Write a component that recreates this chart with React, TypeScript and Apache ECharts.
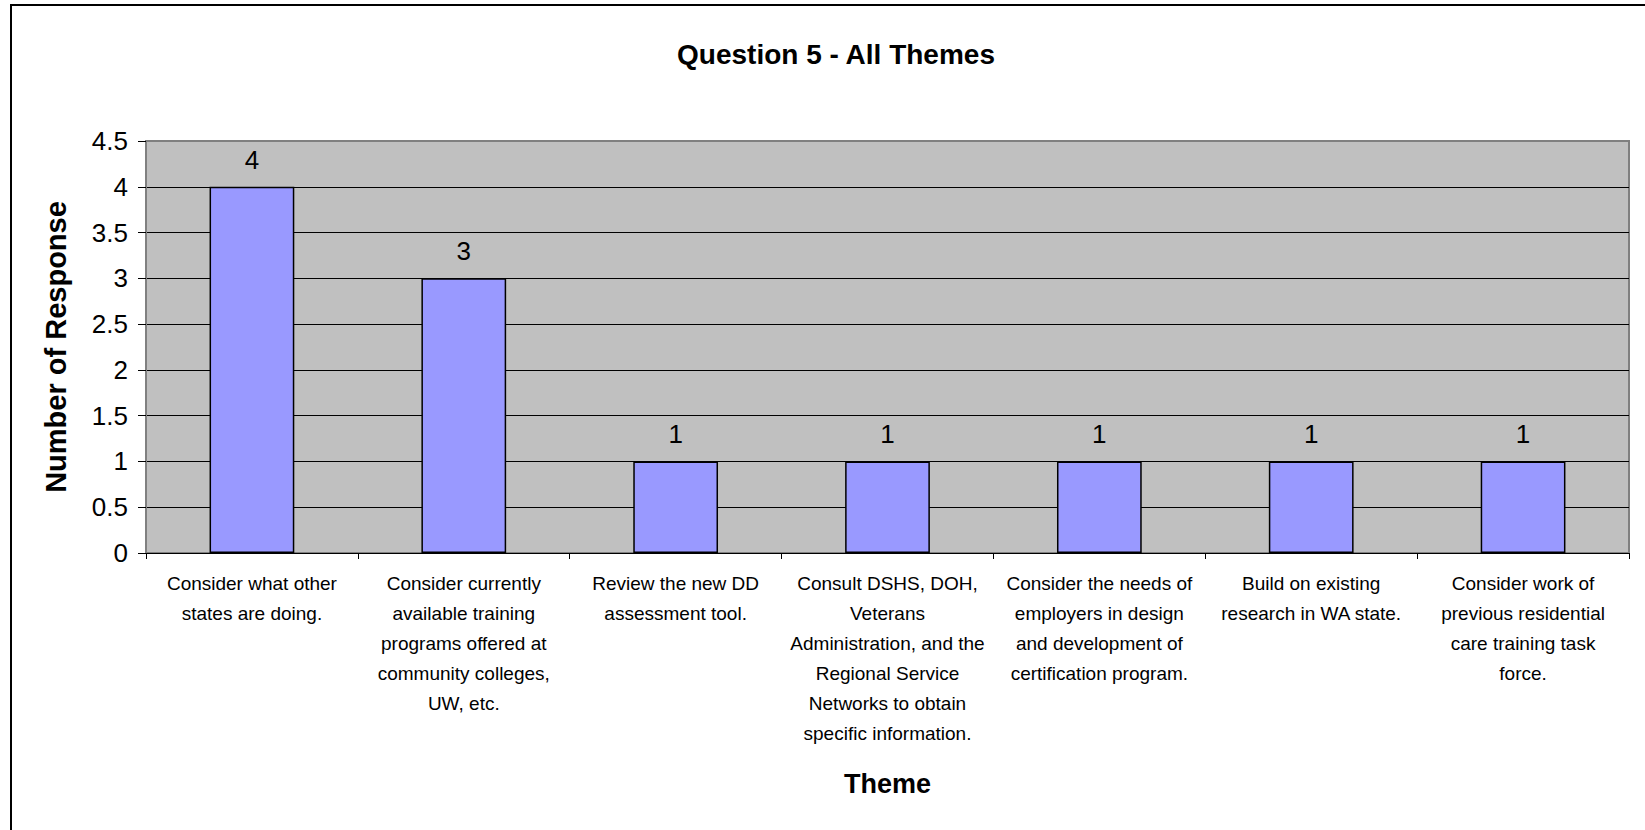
import React, { useEffect, useRef } from "react";
import * as echarts from "echarts";

const categories: string[] = [
  "Consider what other\nstates are doing.",
  "Consider currently\navailable training\nprograms offered at\ncommunity colleges,\nUW, etc.",
  "Review the new DD\nassessment tool.",
  "Consult DSHS, DOH,\nVeterans\nAdministration, and the\nRegional Service\nNetworks to obtain\nspecific information.",
  "Consider the needs of\nemployers in design\nand development of\ncertification program.",
  "Build on existing\nresearch in WA state.",
  "Consider work of\nprevious residential\ncare training task\nforce.",
];
const responses: number[] = [4, 3, 1, 1, 1, 1, 1];
const yTicks = { min: 0, max: 4.5, interval: 0.5 };

const FONT = "'Liberation Sans', Arial, sans-serif";

export default function App() {
  const ref = useRef<HTMLDivElement>(null);
  useEffect(() => {
    if (!ref.current) return;
    const chart = echarts.init(ref.current, undefined, { renderer: "svg" });
    const splitColors = [
      "#000", "#000", "#000", "#000", "#000", "#000", "#000", "#000", "#000", "#808080",
    ];
    chart.setOption({
      animation: false,
      backgroundColor: "#ffffff",
      textStyle: { fontFamily: FONT },
      graphic: [
        {
          type: "rect",
          shape: { x: 11, y: 5, width: 1640, height: 840 },
          style: { fill: "none", stroke: "#000", lineWidth: 2 },
          z: 100,
        },
      ],
      title: {
        text: "Question 5 - All Themes",
        left: 831,
        textAlign: "center",
        top: 35,
        textStyle: { fontFamily: FONT, fontWeight: "bold", fontSize: 28, color: "#000" },
      },
      grid: {
        left: 146,
        top: 141,
        right: 16,
        bottom: 277,
        show: true,
        backgroundColor: "#C0C0C0",
        borderColor: "#808080",
        borderWidth: 2,
      },
      xAxis: {
        type: "category",
        data: categories,
        name: "Theme",
        nameLocation: "middle",
        nameGap: 217,
        nameTextStyle: { fontFamily: FONT, fontWeight: "bold", fontSize: 27, color: "#000" },
        axisLine: { lineStyle: { color: "#000", width: 1 } },
        axisTick: { show: true, length: 6, lineStyle: { color: "#000" }, alignWithLabel: false },
        axisLabel: {
          interval: 0,
          margin: 15,
          fontFamily: FONT,
          fontSize: 19,
          lineHeight: 30,
          color: "#000",
          align: "center",
        },
      },
      yAxis: {
        type: "value",
        min: yTicks.min,
        max: yTicks.max,
        interval: yTicks.interval,
        name: "Number of Response",
        nameLocation: "middle",
        nameGap: 76,
        nameTextStyle: { fontFamily: FONT, fontWeight: "bold", fontSize: 29, color: "#000" },
        axisLine: { show: true, lineStyle: { color: "#808080", width: 2 } },
        axisTick: { show: true, length: 8, lineStyle: { color: "#000" } },
        axisLabel: { margin: 18, fontFamily: FONT, fontSize: 26, color: "#000" },
        splitLine: { show: true, lineStyle: { color: splitColors, width: 1 } },
      },
      series: [
        {
          type: "bar",
          data: responses,
          barCategoryGap: "60%",
          itemStyle: { color: "#9999FF", borderColor: "#000", borderWidth: 1.5 },
          label: {
            show: true,
            position: "top",
            distance: 14,
            fontFamily: FONT,
            fontSize: 26,
            color: "#000",
          },
        },
      ],
    });
    return () => chart.dispose();
  }, []);
  return (
    <div
      ref={ref}
      style={{ position: "fixed", left: 0, top: 0, width: 1645, height: 830 }}
    />
  );
}
